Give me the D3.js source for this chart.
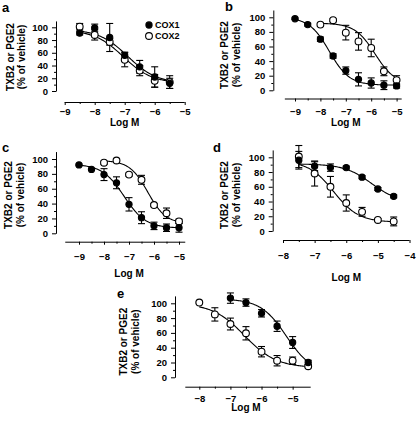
<!DOCTYPE html>
<html><head><meta charset="utf-8">
<script src="https://cdn.jsdelivr.net/npm/d3@7"></script>
<style>
html,body{margin:0;padding:0;background:#fff;}
svg{display:block;font-family:"Liberation Sans",Arial,sans-serif;font-weight:bold;}
</style></head>
<body>
<svg id="chart" width="416" height="421"></svg>
<script>
// ---------- DATA ----------
const panelNames = ["a","b","c","d","e"];
const seriesNames = ["COX1","COX2"];
const yTickValues = [0,20,40,60,80,100];

// panel a
const dosesA1 = [-8.5,-8,-7.5,-7,-6.5,-6,-5.5];
const cox1A = [91,99,84,56,38,22,12];
const cox1ErrA = [3,6,22,5,10,16,8];
const dosesA2 = [-8.5,-8,-7.5,-7,-6.5,-6,-5.5];
const cox2A = [101,88,77,49,32,16,14];
const cox2ErrA = [5,8,5,11,8,10,10];
const fitA1 = [97,12,-6.9,0.9];   // top, bottom, logIC50, hill
const fitA2 = [96,12,-7.05,0.9];
const xTicksA = [-9,-8,-7,-6,-5];

// panel b
const dosesB1 = [-9,-8.5,-8,-7.5,-7,-6.5,-6,-5.5,-5];
const cox1B = [98,90,70,47,27,15,10,7,6];
const cox1ErrB = [1,2,3,3,5,9,7,6,3];
const dosesB2 = [-8,-7.5,-7,-6.5,-6,-5.5,-5];
const cox2B = [90,96,79,67,58,26,14];
const cox2ErrB = [2,2,10,12,12,6,6];
const fitB1 = [100,7,-7.65,1.1];
const fitB2 = [92,8,-5.85,1.1];
const xTicksB = [-9,-8,-7,-6,-5];

// panel c
const dosesC1 = [-9,-8.5,-8,-7.5,-7,-6.5,-6,-5.5,-5];
const cox1C = [92,86,79,68,39,21,10,7.5,7.5];
const cox1ErrC = [1,1,8,8,9,8,5,5,6];
const dosesC2 = [-8,-7.5,-7,-6.5,-6,-5.5,-5];
const cox2C = [95,98,79,72,38,27,16];
const cox2ErrC = [2,2,2,6,2,7,3];
const fitC1 = [93,7,-7.2,1.0];
const fitC2 = [98,13,-6.25,1.2];
const xTicksC = [-9,-8,-7,-6,-5];

// panel d
const dosesD1 = [-7.5,-7,-6.5,-6,-5.5,-5,-4.5];
const cox1D = [96,88,86,86,73,57,47];
const cox1ErrD = [12,6,5,2,2,2,2];
const dosesD2 = [-7.5,-7,-6.5,-6,-5.5,-5,-4.5];
const cox2D = [101,78,60,38,26,15,13];
const cox2ErrD = [15,17,14,11,6,2,6];
const fitD1 = [91,38,-5.2,1.0];
const fitD2 = [95,12,-6.4,1.1];
const xTicksD = [-8,-7,-6,-5,-4];

// panel e
const dosesE1 = [-7,-6.5,-6,-5.5,-5,-4.5];
const cox1E = [107,101,86.5,69,47,20];
const cox1ErrE = [7,5,5,7,8,3];
const dosesE2 = [-8,-7.5,-7,-6.5,-6,-5.5,-5,-4.5];
const cox2E = [101,85,72,59.5,34.6,22.4,22.4,15];
const cox2ErrE = [1,9,8,9,7,7,5,2];
const fitE1 = [106,5,-5.2,1.05];
const fitE2 = [100,13,-6.55,0.85];
const xTicksE = [-8,-7,-6,-5];

const panelData = {
  a:{s1:[dosesA1,cox1A,cox1ErrA,fitA1], s2:[dosesA2,cox2A,cox2ErrA,fitA2], ticks:xTicksA},
  b:{s1:[dosesB1,cox1B,cox1ErrB,fitB1], s2:[dosesB2,cox2B,cox2ErrB,fitB2], ticks:xTicksB},
  c:{s1:[dosesC1,cox1C,cox1ErrC,fitC1], s2:[dosesC2,cox2C,cox2ErrC,fitC2], ticks:xTicksC},
  d:{s1:[dosesD1,cox1D,cox1ErrD,fitD1], s2:[dosesD2,cox2D,cox2ErrD,fitD2], ticks:xTicksD},
  e:{s1:[dosesE1,cox1E,cox1ErrE,fitE1], s2:[dosesE2,cox2E,cox2ErrE,fitE2], ticks:xTicksE}
};

// ---------- LAYOUT ----------
const layout = {
  a:{yx:56, y0:91, y100:27.3, xd:[-9,-5], xr:[64.7,184.7], axLine:[-9,-5], axY:102, pad:3, logY:122, t1:10, t2:21.7, tc:57, lab:[2,12]},
  b:{yx:273.3, y0:90.3, y100:17.3, xd:[-9,-5], xr:[295,396.6], axLine:[-9.4,-4.8], axY:98.5, pad:6.3, logY:122, t1:224.7, t2:236.3, tc:55, lab:[225,11]},
  c:{yx:56, y0:233.3, y100:159, xd:[-9,-5], xr:[79,179], axLine:[-9.55,-4.75], axY:241.7, pad:9, logY:273, t1:8.3, t2:20, tc:195, lab:[2,152]},
  d:{yx:272.7, y0:231, y100:157.3, xd:[-8,-4], xr:[283,409.5], axLine:[-8,-4], axY:240, pad:8.8, logY:277, t1:224, t2:236.3, tc:195, lab:[213,152]},
  e:{yx:175, y0:377.3, y100:303.3, xd:[-8,-4.5], xr:[199.3,308.2], axLine:[-8.45,-4.42], axY:386.7, pad:5.4, logY:407.5, t1:123.3, t2:135, tc:341.7, lab:[117,298]}
};

const svg = d3.select("#chart");
const logistic = (p, x) => p[1] + (p[0]-p[1])/(1+Math.pow(10,(x-p[2])*p[3]));

panelNames.forEach(name => {
  const L = layout[name], D = panelData[name];
  const g = svg.append("g");
  const y = d3.scaleLinear().domain([0,110]).range([L.y0, L.y0 - 1.1*(L.y0-L.y100)]);
  const x = d3.scaleLinear().domain(L.xd).range(L.xr);

  // y axis
  const ya = g.append("g").attr("transform",`translate(${L.yx},0)`)
    .call(d3.axisLeft(y).tickValues(yTickValues).tickSize(4).tickSizeOuter(0).tickPadding(4));
  ya.selectAll("text").style("font-size","9.5px").style("font-weight","bold");
  g.append("g").attr("transform",`translate(${L.yx},0)`)
    .call(d3.axisLeft(y).tickValues([10,30,50,70,90]).tickSize(2).tickFormat(""))
    .select(".domain").remove();

  // x axis
  const xa = g.append("g").attr("transform",`translate(0,${L.axY})`)
    .call(d3.axisBottom(x).tickValues(D.ticks).tickSize(3).tickPadding(L.pad).tickFormat(d3.format("d")));
  xa.select(".domain").remove();
  xa.selectAll("text").style("font-size","9.5px").style("font-weight","bold");
  const halfTicks = D.ticks.slice(0,-1).map(t=>t+0.5);
  g.append("g").attr("transform",`translate(0,${L.axY})`)
    .call(d3.axisBottom(x).tickValues(halfTicks).tickSize(2).tickFormat(""))
    .select(".domain").remove();
  g.append("line").attr("x1",x(L.axLine[0])).attr("x2",x(L.axLine[1]))
    .attr("y1",L.axY+0.5).attr("y2",L.axY+0.5).attr("stroke","#000");

  // titles
  g.append("text").attr("x",(x(D.ticks[0])+x(D.ticks[D.ticks.length-1]))/2).attr("y",L.logY)
    .attr("text-anchor","middle").attr("dominant-baseline","central")
    .style("font-size","10px").text("Log M");
  [[L.t1,"TXB2 or PGE2"],[L.t2,"(% of vehicle)"]].forEach(([tx,txt])=>{
    g.append("text").attr("transform",`translate(${tx},${L.tc}) rotate(-90)`)
      .attr("text-anchor","middle").attr("dominant-baseline","central")
      .style("font-size","10px").text(txt);
  });
  g.append("text").attr("x",L.lab[0]).attr("y",L.lab[1]).style("font-size","13px").text(name);

  // series
  [D.s1, D.s2].forEach((s, si) => {
    const [doses, vals, errs, fit] = s;
    const xs = d3.range(0,101).map(i => doses[0] + (doses[doses.length-1]-doses[0])*i/100);
    g.append("path").datum(xs)
      .attr("d", d3.line().x(d=>x(d)).y(d=>y(logistic(fit,d))))
      .attr("fill","none").attr("stroke","#000").attr("stroke-width",1.1);
  });
  [D.s1, D.s2].forEach((s, si) => {
    const [doses, vals, errs] = s;
    const eg = g.append("g").attr("stroke","#000").attr("stroke-width",1.1);
    doses.forEach((d,i)=>{
      const cx = x(d), top = y(vals[i]+errs[i]), bot = y(vals[i]-errs[i]);
      eg.append("line").attr("x1",cx).attr("x2",cx).attr("y1",top).attr("y2",bot);
      eg.append("line").attr("x1",cx-3.5).attr("x2",cx+3.5).attr("y1",top).attr("y2",top);
      eg.append("line").attr("x1",cx-3.5).attr("x2",cx+3.5).attr("y1",bot).attr("y2",bot);
    });
  });
  [D.s2, D.s1].forEach(s => {
    const [doses, vals] = s;
    const filled = s === D.s1;
    g.append("g").selectAll("circle").data(doses).join("circle")
      .attr("cx",d=>x(d)).attr("cy",(d,i)=>y(vals[i]))
      .attr("r", filled ? 3.1 : 3.4)
      .attr("fill", filled ? "#000" : "#fff").attr("stroke","#000").attr("stroke-width",1.1);
  });

  // legend in panel a
  if (name === "a") {
    seriesNames.forEach((sn, i) => {
      const ly = 25 + i*11;
      g.append("circle").attr("cx",149).attr("cy",ly).attr("r", i===0?3.1:3.4)
        .attr("fill", i===0?"#000":"#fff").attr("stroke","#000").attr("stroke-width",1.1);
      g.append("text").attr("x",155).attr("y",ly).attr("dominant-baseline","central")
        .style("font-size","9px").text(sn);
    });
  }
});
</script>
</body></html>
